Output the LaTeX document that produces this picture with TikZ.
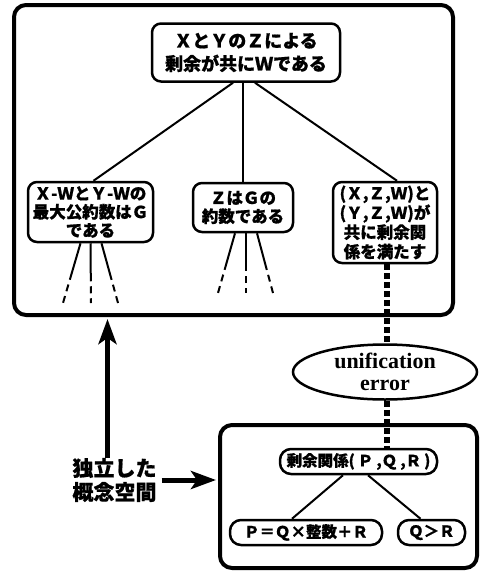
\documentclass[tikz,border=0pt]{standalone}
\usepackage{fontspec}
\newfontfamily\jp{Noto Sans CJK JP}[BoldFeatures={FakeBold=0.8}]
\newfontfamily\serifen{Liberation Serif}
\usetikzlibrary{shapes.geometric,arrows.meta,calc}
\begin{document}
\begin{tikzpicture}[x=1pt,y=-1pt,
  bigbox/.style={draw, line width=4pt, rounded corners=12pt, inner sep=0pt},
  jbox/.style={draw, line width=2.5pt, rounded corners=9pt, align=center, inner sep=0pt,
    font=\jp\bfseries\fontsize{16.5}{18.5}\selectfont},
  pill/.style={draw, line width=2.5pt, rounded corners=11pt, align=center, inner sep=0pt,
    minimum height=25pt, font=\jp\bfseries\fontsize{15.5}{17}\selectfont},
  link/.style={line width=2pt},
  fan/.style={line width=2pt, dash pattern=on 38pt off 5pt on 7pt off 5pt on 7pt},
  thickdash/.style={line width=6pt, dash pattern=on 6pt off 3pt},
  bigarrow/.style={line width=5pt, -{Stealth[length=25pt,width=18pt,inset=6pt]}}
]
\useasboundingbox (0,0) rectangle (480,574);

% outer boxes
\node[bigbox, minimum width=439pt, minimum height=310pt] (upper) at (233.5,160) {};
\node[bigbox, minimum width=257pt, minimum height=143pt] (lower) at (348.5,496.5) {};

% upper tree
\node[jbox, minimum width=188pt, minimum height=58pt,
  font=\jp\bfseries\fontsize{18}{23}\selectfont] (top) at (246,52.5)
  {ＸとＹのＺによる\\剰余が共にＷである};
\node[jbox, minimum width=125pt, minimum height=60pt] (left) at (90.5,212)
  {Ｘ-ＷとＹ-Ｗの\\最大公約数はＧ\\である};
\node[jbox, minimum width=100pt, minimum height=49pt] (mid) at (243,207.5)
  {ＺはＧの\\約数である};
\node[jbox, minimum width=104pt, minimum height=81pt,
  font=\jp\bfseries\fontsize{16.5}{19.5}\selectfont] (right) at (385,222.5)
  {(Ｘ,Ｚ,Ｗ)と\\(Ｙ,Ｚ,Ｗ)が\\共に剰余関\\係を満たす};

\draw[link] ([xshift=-13pt]top.south) -- ([xshift=3pt]left.north);
\draw[link] (mid.north |- top.south) -- (mid.north);
\draw[link] ([xshift=9pt]top.south) -- ([xshift=12pt]right.north);

% fans
\coordinate (l1) at (63,303);
\coordinate (l2) at (91,303);
\coordinate (l3) at (118,303);
\coordinate (m1) at (218,293);
\coordinate (m2) at (246,293);
\coordinate (m3) at (273,293);
\draw[fan] ([xshift=-10pt]left.south) -- (l1);
\draw[fan] ([xshift=0pt]left.south) -- (l2);
\draw[fan] ([xshift=11pt]left.south) -- (l3);
\draw[fan] ([xshift=-8pt]mid.south) -- (m1);
\draw[fan] ([xshift=3pt]mid.south) -- (m2);
\draw[fan] ([xshift=14pt]mid.south) -- (m3);

% unification error
\node[draw, ellipse, line width=2.5pt, minimum width=184pt, minimum height=55pt,
  inner sep=0pt, align=center, font=\serifen\bfseries\fontsize{22}{22.5}\selectfont] (err) at (385,372)
  {unification\\error};

% lower tree
\node[pill, minimum width=157pt] (rel) at (358.5,461.5)
  {剰余関係(\hspace{3pt}Ｐ\hspace{3pt},Ｑ\hspace{3pt},Ｒ\hspace{3pt})};
\node[pill, minimum width=152pt] (eq) at (306,532.5) {Ｐ＝Ｑ×整数＋Ｒ};
\node[pill, minimum width=67pt] (qr) at (431.5,532.5) {Ｑ＞Ｒ};

\draw[link] ([xshift=-15.5pt]rel.south) -- ([xshift=-14pt]eq.north);
\draw[link] ([xshift=9.5pt]rel.south) -- ([xshift=-11pt]qr.north);

% thick dashed links
\draw[thickdash] ([xshift=2pt]right.south) -- ([xshift=2pt]right.south |- err.north);
\draw[thickdash] ([xshift=2pt]right.south |- err.south) -- ([xshift=2pt]right.south |- rel.north);

% label and arrows
\node[font=\jp\bfseries\fontsize{21}{24}\selectfont, align=left, inner sep=0pt] (indep) at (114.5,480)
  {独立した\\概念空間};
\draw[bigarrow] ([xshift=-7pt]indep.north) -- ([xshift=-7pt,yshift=-2pt]indep.north |- upper.south);
\draw[bigarrow] ([xshift=5pt]indep.east) -- ([xshift=-2pt]indep.east -| lower.west);
\end{tikzpicture}
\end{document}
